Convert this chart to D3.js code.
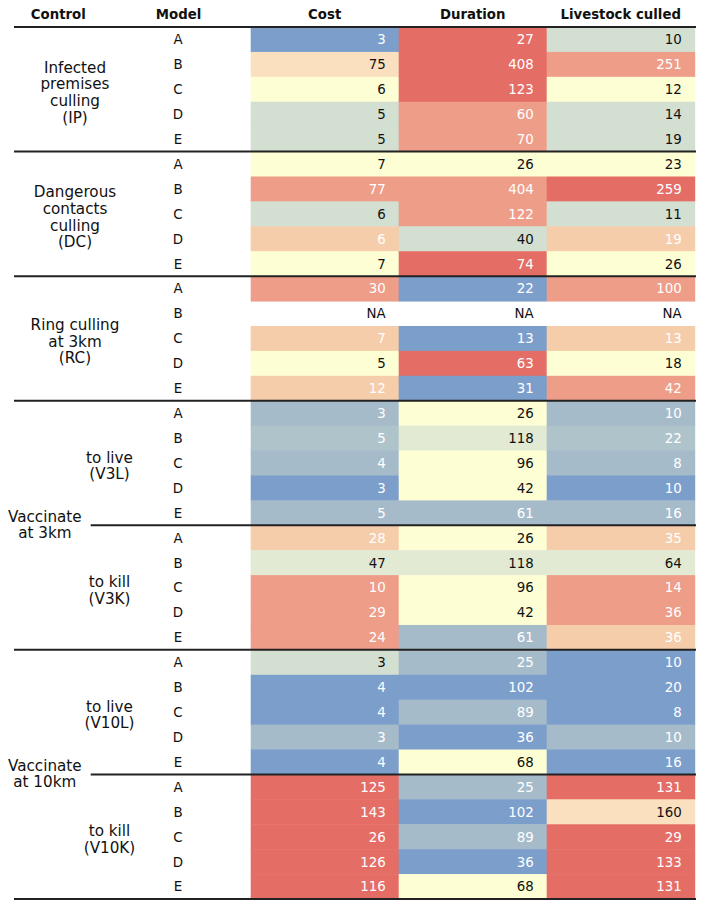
<!DOCTYPE html>
<html>
<head>
<meta charset="utf-8">
<script src="https://cdn.jsdelivr.net/npm/d3@7"></script>
<style>
  html, body { margin: 0; padding: 0; background: #fff; }
  svg { display: block; font-family: "DejaVu Sans", sans-serif; }
</style>
</head>
<body>
<svg id="chart" width="704" height="908"></svg>
<script>
// ---------- DATA ----------
const controls = ["IP", "DC", "RC", "V3L", "V3K", "V10L", "V10K"];
const models = ["A", "B", "C", "D", "E"];
const metrics = ["Cost", "Duration", "Livestock culled"];

// values per control (rows) x model (cols); null = NA
const cost = [
  [3, 75, 6, 5, 5],
  [7, 77, 6, 6, 7],
  [30, null, 7, 5, 12],
  [3, 5, 4, 3, 5],
  [28, 47, 10, 29, 24],
  [3, 4, 4, 3, 4],
  [125, 143, 26, 126, 116]
];
const duration = [
  [27, 408, 123, 60, 70],
  [26, 404, 122, 40, 74],
  [22, null, 13, 63, 31],
  [26, 118, 96, 42, 61],
  [26, 118, 96, 42, 61],
  [25, 102, 89, 36, 68],
  [25, 102, 89, 36, 68]
];
const livestock = [
  [10, 251, 12, 14, 19],
  [23, 259, 11, 19, 26],
  [100, null, 13, 18, 42],
  [10, 22, 8, 10, 16],
  [35, 64, 14, 36, 36],
  [10, 20, 8, 10, 16],
  [131, 160, 29, 133, 131]
];

// rank of each control among the controls for a given model & metric (1 = best)
const costRank = [
  [1, 4, 4, 3, 3],
  [4, 5, 3, 5, 4],
  [6, null, 5, 4, 5],
  [2, 2, 2, 1, 2],
  [5, 3, 6, 6, 6],
  [3, 1, 1, 2, 1],
  [7, 6, 7, 7, 7]
];
const durationRank = [
  [7, 6, 7, 6, 6],
  [4, 5, 6, 3, 7],
  [1, null, 1, 7, 1],
  [4, 3, 4, 4, 2],
  [4, 3, 4, 4, 2],
  [2, 1, 2, 1, 4],
  [2, 1, 2, 1, 4]
];
const livestockRank = [
  [3, 5, 4, 3, 3],
  [4, 6, 3, 5, 4],
  [6, null, 5, 4, 6],
  [2, 2, 2, 1, 2],
  [5, 3, 6, 6, 5],
  [1, 1, 1, 2, 1],
  [7, 4, 7, 7, 7]
];

// label hierarchy
const groups = [
  { label: ["Infected", "premises", "culling", "(IP)"], members: ["IP"] },
  { label: ["Dangerous", "contacts", "culling", "(DC)"], members: ["DC"] },
  { label: ["Ring culling", "at 3km", "(RC)"], members: ["RC"] },
  { label: ["Vaccinate", "at 3km"], members: ["V3L", "V3K"],
    subs: [{ label: ["to live", "(V3L)"], members: ["V3L"] }, { label: ["to kill", "(V3K)"], members: ["V3K"] }] },
  { label: ["Vaccinate", "at 10km"], members: ["V10L", "V10K"],
    subs: [{ label: ["to live", "(V10L)"], members: ["V10L"] }, { label: ["to kill", "(V10K)"], members: ["V10K"] }] }
];

// ---------- DRAW ----------
const svg = d3.select("#chart");

const palette7 = ["#7b9ecb", "#a6bbca", "#d3dfd0", "#fefed5", "#f6cdaa", "#ed9d88", "#e46d66"];
const palette6 = ["#7b9ecb", "#afc3cb", "#e2ead3", "#fbe0bf", "#ed9d88", "#e46d66"];

const metricData = [
  { name: "Cost", values: cost, ranks: costRank },
  { name: "Duration", values: duration, ranks: durationRank },
  { name: "Livestock culled", values: livestock, ranks: livestockRank }
];

const rowKeys = [];
controls.forEach(c => models.forEach(m => rowKeys.push(c + "|" + m)));

const y = d3.scaleBand().domain(rowKeys).range([27, 899]).padding(0);
const x = d3.scaleBand().domain(metrics).range([250.7, 694.7]).padding(0);

// number of non-NA controls per model decides palette
function colorFor(metricIdx, ci, mi) {
  const md = metricData[metricIdx];
  const n = md.values.filter(r => r[mi] !== null).length;
  const pal = n === 7 ? palette7 : palette6;
  const sc = d3.scaleOrdinal().domain(d3.range(1, n + 1)).range(pal);
  return sc(md.ranks[ci][mi]);
}

const cells = [];
metricData.forEach((md, k) => {
  controls.forEach((c, ci) => {
    models.forEach((m, mi) => {
      const v = md.values[ci][mi];
      const r = md.ranks[ci][mi];
      cells.push({
        metric: md.name, key: c + "|" + m, value: v, rank: r,
        fill: v === null ? "none" : colorFor(k, ci, mi),
        dark: v !== null && (r === 3 || r === 4)
      });
    });
  });
});

const gCells = svg.append("g");
gCells.selectAll("rect")
  .data(cells.filter(d => d.value !== null))
  .join("rect")
  .attr("x", d => x(d.metric))
  .attr("y", d => y(d.key))
  .attr("width", x.bandwidth() + 0.5)
  .attr("height", y.bandwidth() + 0.5)
  .attr("fill", d => d.fill);

const fs = 13.4;
gCells.selectAll("text")
  .data(cells)
  .join("text")
  .attr("x", d => x(d.metric) + x.bandwidth() - 13)
  .attr("y", d => y(d.key) + y.bandwidth() / 2 + fs * 0.365)
  .attr("text-anchor", "end")
  .attr("font-size", fs)
  .attr("fill", d => (d.value === null || d.dark) ? "#111" : "#fff")
  .text(d => d.value === null ? "NA" : d.value);

// model letters
svg.append("g").selectAll("text")
  .data(rowKeys)
  .join("text")
  .attr("x", 178)
  .attr("y", d => y(d) + y.bandwidth() / 2 + fs * 0.365)
  .attr("text-anchor", "middle")
  .attr("font-size", fs)
  .attr("fill", "#111")
  .text(d => d.split("|")[1]);

// headers
const hdr = svg.append("g").attr("font-weight", "bold").attr("font-size", 13.3).attr("fill", "#111");
hdr.append("text").attr("x", 58.3).attr("y", 14 + 13.3 * 0.365).attr("text-anchor", "middle").text("Control");
hdr.append("text").attr("x", 178.5).attr("y", 14 + 13.3 * 0.365).attr("text-anchor", "middle").text("Model");
hdr.selectAll("text.m").data(metrics).join("text").attr("class", "m")
  .attr("x", d => x(d) + x.bandwidth() / 2)
  .attr("y", 14 + 13.3 * 0.365)
  .attr("text-anchor", "middle")
  .text(d => d);

// control labels
const lfs = 15.2, lh = 16.6;
function spanOf(members) {
  const top = y(members[0] + "|" + models[0]);
  const last = members[members.length - 1];
  const bot = y(last + "|" + models[models.length - 1]) + y.bandwidth();
  return [top, bot];
}
function drawLabel(lines, cx, cy) {
  const t = svg.append("text").attr("font-size", lfs).attr("fill", "#111").attr("text-anchor", "middle");
  const n = lines.length;
  lines.forEach((s, i) => {
    t.append("tspan").attr("x", cx)
      .attr("y", cy + (i - (n - 1) / 2) * lh + lfs * 0.365)
      .text(s);
  });
}

const lines = svg.append("g").attr("stroke", "#222").attr("stroke-width", 2);
lines.append("line").attr("x1", 14).attr("x2", 696).attr("y1", y.range()[0]).attr("y2", y.range()[0]);

groups.forEach(g => {
  const [t, b] = spanOf(g.members);
  if (g.subs) {
    drawLabel(g.label, 44.8, (t + b) / 2 - 1);
    g.subs.forEach((s, i) => {
      const [st, sb] = spanOf(s.members);
      drawLabel(s.label, 109.5, (st + sb) / 2 + 2.5);
      if (i < g.subs.length - 1) {
        lines.append("line").attr("x1", 90.7).attr("x2", 696).attr("y1", sb).attr("y2", sb);
      }
    });
  } else {
    drawLabel(g.label, 75, (t + b) / 2 + 2.8);
  }
  lines.append("line").attr("x1", 14).attr("x2", 696).attr("y1", b).attr("y2", b);
});
</script>
</body>
</html>
